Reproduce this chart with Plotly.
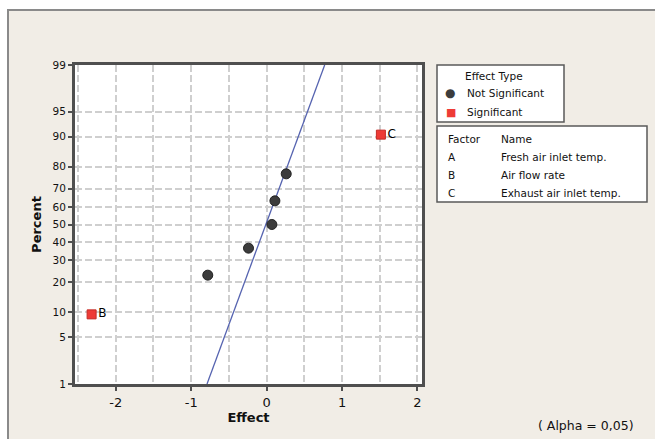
import plotly.graph_objects as go
from statistics import NormalDist

# ---------------- data ----------------
ns_effects = [-0.78, -0.24, 0.07, 0.11, 0.26]
ns_percent = [23.0, 36.5, 50.0, 63.5, 77.0]

sig_labels = ["B", "C"]
sig_effects = [-2.32, 1.515]
sig_percent = [9.5, 90.5]

line_effects = [-0.79, 0.77]
line_percent = [1, 99]

y_tick_percent = [1, 5, 10, 20, 30, 40, 50, 60, 70, 80, 90, 95, 99]
x_tick_vals = [-2, -1, 0, 1, 2]

factor_codes = ["A", "B", "C"]
factor_names = ["Fresh air inlet temp.", "Air flow rate", "Exhaust air inlet temp."]

# ---------------- helpers ----------------
nd = NormalDist()


def z(p):
    return nd.inv_cdf(p / 100.0)


W, H = 655, 439
L, R, T, B = 75, 233, 65, 55
PW, PH = W - L - R, H - T - B


def px(x):
    return (x - L) / PW


def py(y):
    return (H - B - y) / PH


BEIGE = "#F1EDE6"
GRID = "#CFCFCF"
FRAME = "#4F4F4F"
FONT = "DejaVu Sans"

fig = go.Figure()

fig.add_trace(go.Scatter(
    x=line_effects, y=[z(p) for p in line_percent], mode="lines",
    line=dict(color="#5563B0", width=1.3), showlegend=False, hoverinfo="skip"))

fig.add_trace(go.Scatter(
    x=ns_effects, y=[z(p) for p in ns_percent], mode="markers",
    marker=dict(symbol="circle", size=10, color="#3C3C3C",
                line=dict(color="#222222", width=1)),
    name="Not Significant", showlegend=False))

fig.add_trace(go.Scatter(
    x=sig_effects, y=[z(p) for p in sig_percent], mode="markers+text",
    text=sig_labels, textposition="middle right",
    textfont=dict(family=FONT, size=12, color="#000000"),
    marker=dict(symbol="square", size=9, color="#EE3B36",
                line=dict(color="#C42A25", width=1)),
    name="Significant", showlegend=False, cliponaxis=False))

fig.update_layout(
    width=W, height=H,
    margin=dict(l=L, r=R, t=T, b=B, pad=0),
    paper_bgcolor=BEIGE, plot_bgcolor="white",
    font=dict(family=FONT, color="#111111"),
    showlegend=False,
)

fig.update_xaxes(
    range=[-2.54, 2.06], tickvals=x_tick_vals,
    ticktext=[str(v) for v in x_tick_vals],
    tickfont=dict(family=FONT, size=13, color="#111111"),
    ticks="outside", ticklen=4, tickwidth=2, tickcolor=FRAME,
    showgrid=True, gridcolor=GRID, gridwidth=2, griddash="7px,3px",
    minor=dict(dtick=0.5, tick0=0, showgrid=True, gridcolor=GRID,
               gridwidth=2, griddash="7px,3px", ticks=""),
    zeroline=False, showline=True, linecolor=FRAME, linewidth=3, mirror=True,
    title=dict(text="<b>Effect</b>", font=dict(family=FONT, size=13, color="#111111"),
               standoff=4),
)

fig.update_yaxes(
    range=[z(1), z(99)], tickvals=[z(p) for p in y_tick_percent],
    ticktext=[str(p) for p in y_tick_percent],
    tickfont=dict(family=FONT, size=10.5, color="#111111"),
    ticks="outside", ticklen=4, tickwidth=2, tickcolor=FRAME,
    showgrid=True, gridcolor=GRID, gridwidth=2, griddash="7px,3px",
    zeroline=False, showline=True, linecolor=FRAME, linewidth=3, mirror=True,
    title=dict(text="<b>Percent</b>", font=dict(family=FONT, size=13, color="#111111"),
               standoff=8),
)

shapes = []
# white outer strips and panel border
shapes.append(dict(type="rect", xref="paper", yref="paper",
                   x0=px(-2), x1=px(W + 2), y0=py(9), y1=py(-2),
                   fillcolor="white", line=dict(width=0), layer="below"))
shapes.append(dict(type="rect", xref="paper", yref="paper",
                   x0=px(-2), x1=px(7), y0=py(H + 2), y1=py(-2),
                   fillcolor="white", line=dict(width=0), layer="below"))
shapes.append(dict(type="line", xref="paper", yref="paper",
                   x0=px(7), x1=px(W + 2), y0=py(10), y1=py(10),
                   line=dict(color="#8A8A8A", width=2), layer="below"))
shapes.append(dict(type="line", xref="paper", yref="paper",
                   x0=px(8), x1=px(8), y0=py(9), y1=py(H + 2),
                   line=dict(color="#8A8A8A", width=2), layer="below"))
# legend boxes
shapes.append(dict(type="rect", xref="paper", yref="paper",
                   x0=px(437), x1=px(564), y0=py(122), y1=py(65),
                   fillcolor="white", line=dict(color="#5A5A5A", width=1.5)))
shapes.append(dict(type="rect", xref="paper", yref="paper",
                   x0=px(437), x1=px(647), y0=py(202), y1=py(126),
                   fillcolor="white", line=dict(color="#5A5A5A", width=1.5)))
fig.update_layout(shapes=shapes)

ann = []


def text(x, y, s, size=10.5, xanchor="left", color="#111111"):
    ann.append(dict(xref="paper", yref="paper", x=px(x), y=py(y), text=s,
                    showarrow=False, xanchor=xanchor, yanchor="middle",
                    font=dict(family=FONT, size=size, color=color)))


text(494, 76, "Effect Type", xanchor="center")
text(450, 93.5, "●", size=12, xanchor="center", color="#3C3C3C")
text(465, 93.5, "Not Significant")
text(451, 112, "■", size=11, xanchor="center", color="#EE3B36")
text(465, 112, "Significant")

text(446, 138.5, "Factor")
text(499, 138.5, "Name")
rows_y = [157, 174.5, 192.5]
for code, name, yy in zip(factor_codes, factor_names, rows_y):
    text(446, yy, code)
    text(499, yy, name)

text(536, 425.5, "( Alpha = 0,05)", size=12.5)

fig.update_layout(annotations=ann)

fig.write_html("out.html", config={"displayModeBar": False},
               post_script="document.body.style.margin='0';document.body.style.overflow='hidden';")
